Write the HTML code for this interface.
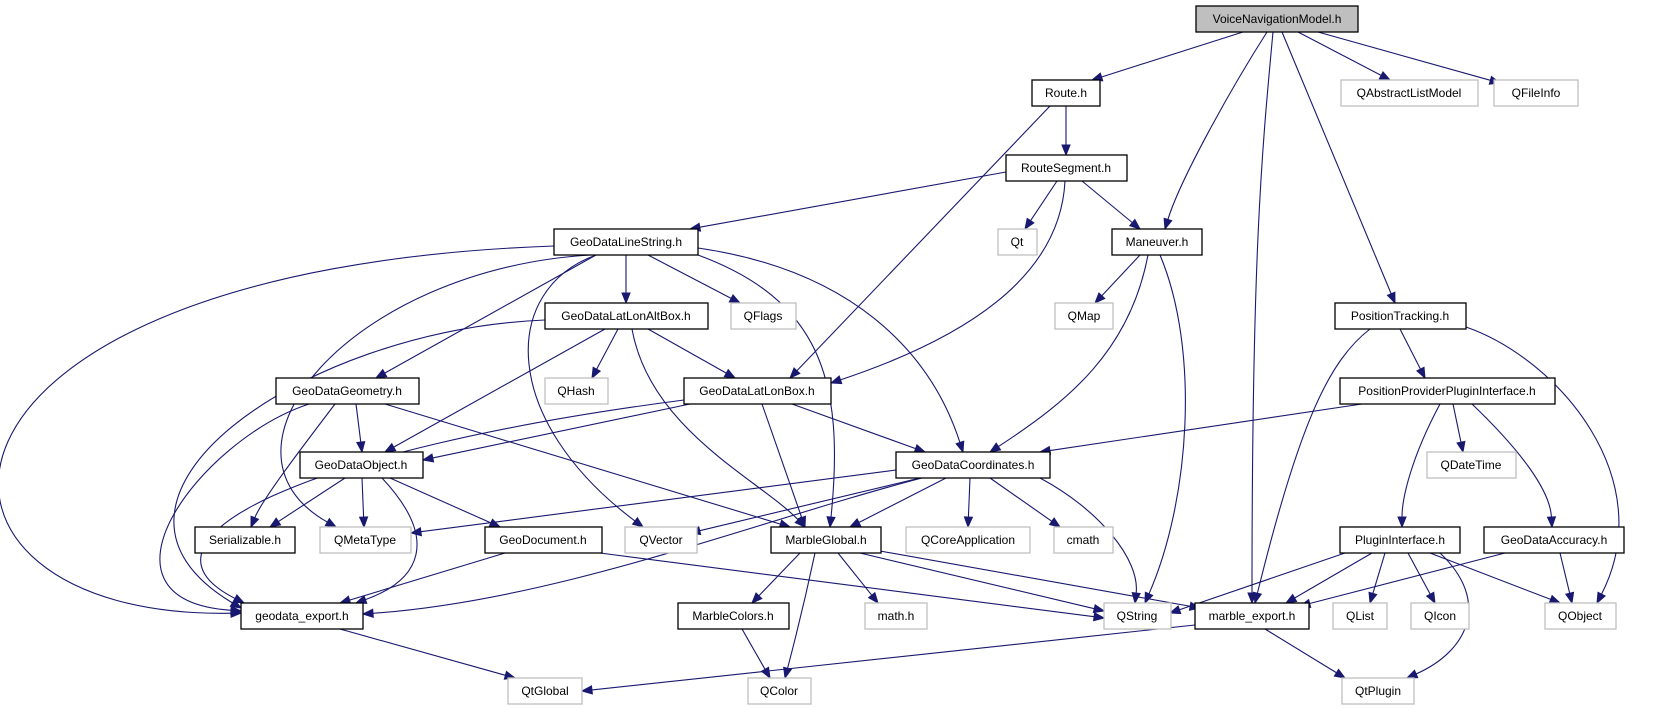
<!DOCTYPE html>
<html><head><meta charset="utf-8"><style>
html,body{margin:0;padding:0;background:#fff;width:1654px;height:709px;overflow:hidden}
svg{display:block}
text{font-family:"Liberation Sans",Arial,sans-serif;font-size:12px;fill:#000;text-anchor:middle}
.b{fill:#fff;stroke:#000;stroke-width:1.3}
.g{fill:#fff;stroke:#bfbfbf;stroke-width:1.3}
.r{fill:#bfbfbf;stroke:#000;stroke-width:1.3}
</style></head><body>
<svg id="s" width="1654" height="709" viewBox="0 0 1654 709" xmlns="http://www.w3.org/2000/svg">
<g id="edges"></g>
<g id="nodes">
<rect class="r" x="1196" y="6" width="162" height="26"/><text x="1277" y="23">VoiceNavigationModel.h</text>
<rect class="b" x="1032" y="80" width="68" height="26"/><text x="1066" y="97">Route.h</text>
<rect class="g" x="1341" y="80" width="137" height="26"/><text x="1409" y="97">QAbstractListModel</text>
<rect class="g" x="1494" y="80" width="84" height="26"/><text x="1536" y="97">QFileInfo</text>
<rect class="b" x="1006" y="155" width="121" height="26"/><text x="1066" y="172">RouteSegment.h</text>
<rect class="b" x="554" y="229" width="144" height="26"/><text x="626" y="246">GeoDataLineString.h</text>
<rect class="g" x="998" y="229" width="39" height="26"/><text x="1017" y="246">Qt</text>
<rect class="b" x="1112" y="229" width="90" height="26"/><text x="1157" y="246">Maneuver.h</text>
<rect class="b" x="545" y="303" width="163" height="26"/><text x="626" y="320">GeoDataLatLonAltBox.h</text>
<rect class="g" x="731" y="303" width="65" height="26"/><text x="763" y="320">QFlags</text>
<rect class="g" x="1055" y="303" width="58" height="26"/><text x="1084" y="320">QMap</text>
<rect class="b" x="1335" y="303" width="131" height="26"/><text x="1400" y="320">PositionTracking.h</text>
<rect class="b" x="276" y="378" width="143" height="26"/><text x="347" y="395">GeoDataGeometry.h</text>
<rect class="g" x="545" y="378" width="63" height="26"/><text x="576" y="395">QHash</text>
<rect class="b" x="684" y="378" width="147" height="26"/><text x="757" y="395">GeoDataLatLonBox.h</text>
<rect class="b" x="1340" y="378" width="215" height="26"/><text x="1447" y="395">PositionProviderPluginInterface.h</text>
<rect class="b" x="300" y="452" width="123" height="26"/><text x="361" y="469">GeoDataObject.h</text>
<rect class="b" x="896" y="452" width="154" height="26"/><text x="973" y="469">GeoDataCoordinates.h</text>
<rect class="g" x="1427" y="452" width="89" height="26"/><text x="1471" y="469">QDateTime</text>
<rect class="b" x="195" y="527" width="100" height="26"/><text x="245" y="544">Serializable.h</text>
<rect class="g" x="320" y="527" width="91" height="26"/><text x="365" y="544">QMetaType</text>
<rect class="b" x="485" y="527" width="117" height="26"/><text x="543" y="544">GeoDocument.h</text>
<rect class="g" x="625" y="527" width="72" height="26"/><text x="661" y="544">QVector</text>
<rect class="b" x="771" y="527" width="110" height="26"/><text x="826" y="544">MarbleGlobal.h</text>
<rect class="g" x="906" y="527" width="124" height="26"/><text x="968" y="544">QCoreApplication</text>
<rect class="g" x="1054" y="527" width="59" height="26"/><text x="1083" y="544">cmath</text>
<rect class="b" x="1340" y="527" width="120" height="26"/><text x="1400" y="544">PluginInterface.h</text>
<rect class="b" x="1484" y="527" width="140" height="26"/><text x="1554" y="544">GeoDataAccuracy.h</text>
<rect class="b" x="241" y="603" width="122" height="26"/><text x="302" y="620">geodata_export.h</text>
<rect class="b" x="678" y="603" width="111" height="26"/><text x="733" y="620">MarbleColors.h</text>
<rect class="g" x="865" y="603" width="62" height="26"/><text x="896" y="620">math.h</text>
<rect class="g" x="1104" y="603" width="67" height="26"/><text x="1137" y="620">QString</text>
<rect class="b" x="1195" y="603" width="114" height="26"/><text x="1252" y="620">marble_export.h</text>
<rect class="g" x="1333" y="603" width="54" height="26"/><text x="1360" y="620">QList</text>
<rect class="g" x="1411" y="603" width="58" height="26"/><text x="1440" y="620">QIcon</text>
<rect class="g" x="1545" y="603" width="71" height="26"/><text x="1580" y="620">QObject</text>
<rect class="g" x="508" y="678" width="74" height="26"/><text x="545" y="695">QtGlobal</text>
<rect class="g" x="748" y="678" width="63" height="26"/><text x="779" y="695">QColor</text>
<rect class="g" x="1342" y="678" width="72" height="26"/><text x="1378" y="695">QtPlugin</text>
</g>
</svg>
<script>
var E=[
[1243,32,1092,80],[1267,32,1165,229,1230,90,1180,180],[1273,32,1252,603,1262,150,1252,250],
[1282,32,1395,303],[1298,32,1390,80],[1318,32,1500,83],
[1066,106,1066,155],[1050,106,790,378],
[1006,172,690,229],[1057,181,1025,229],[1082,181,1140,229],[1065,181,831,383,1060,280,960,340],
[554,246,241,613,-120,270,-120,620],[590,255,336,527,350,270,200,450],[596,255,376,378],[626,255,626,303],
[648,255,740,303],[596,255,643,527,500,290,500,420],[698,255,830,527,820,300,845,380],[698,248,963,452,850,270,930,350],
[1140,255,1095,303],[1148,255,990,452,1130,350,1070,400],[1160,255,1145,603,1200,350,1190,500],
[545,320,241,608,300,330,60,500],[618,329,592,378],[605,329,385,452],[648,329,735,378],[632,329,805,527,650,430,760,480],
[1400,329,1425,378],[1370,329,1255,603,1330,360,1300,420],[1466,327,1597,603,1560,360,1660,480],
[356,404,362,452],[335,404,251,527,300,450,262,500],[309,404,241,611,200,440,80,600],[385,404,790,527],
[690,404,423,460],[684,400,244,603,300,450,120,540],[762,404,805,527],[792,404,925,452],
[1362,404,1040,452],[1453,404,1463,452],[1440,404,1402,527,1410,460,1402,500],[1472,404,1552,527,1520,450,1550,490],
[345,478,270,527],[362,478,364,527],[390,478,500,527],[382,478,356,603,440,540,420,580],
[896,470,411,533],[920,478,690,533],[946,478,850,527],[970,478,968,527],[990,478,1060,527],
[1040,478,1135,603,1100,510,1140,560],[922,478,363,614,760,520,560,600],
[505,553,340,603],[600,553,1104,618],
[800,553,752,603],[815,553,785,678,805,600,795,640],[838,553,878,603],[860,553,1104,611],[880,551,1200,608],
[1345,553,1170,613],[1372,553,1286,603],[1385,553,1370,603],[1408,553,1435,603],[1430,553,1560,603],
[1440,553,1407,678,1490,600,1470,650],[1505,553,1300,606],[1560,553,1572,603],
[340,629,515,678],[742,629,770,678],[1195,625,582,691],[1265,629,1345,678]
];
var g=document.getElementById('edges'),ns='http://www.w3.org/2000/svg',C='#191970';
E.forEach(function(e){
 var x1=e[0],y1=e[1],x2=e[2],y2=e[3],px,py;
 if(e.length>4){px=e[6];py=e[7];}else{px=x1;py=y1;}
 var dx=x2-px,dy=y2-py,L=Math.sqrt(dx*dx+dy*dy)||1,ux=dx/L,uy=dy/L;
 var bx=x2-ux*10,by=y2-uy*10;
 var p=document.createElementNS(ns,'path'),d;
 if(e.length>4)d='M'+x1+','+y1+' C'+e[4]+','+e[5]+' '+e[6]+','+e[7]+' '+bx+','+by;
 else d='M'+x1+','+y1+' L'+bx+','+by;
 p.setAttribute('d',d);p.setAttribute('fill','none');p.setAttribute('stroke',C);p.setAttribute('stroke-width','1.1');
 g.appendChild(p);
 var a=document.createElementNS(ns,'polygon');
 a.setAttribute('points',x2+','+y2+' '+(bx-uy*4)+','+(by+ux*4)+' '+(bx+uy*4)+','+(by-ux*4));
 a.setAttribute('fill',C);a.setAttribute('stroke',C);
 g.appendChild(a);
});
</script>
</body></html>
